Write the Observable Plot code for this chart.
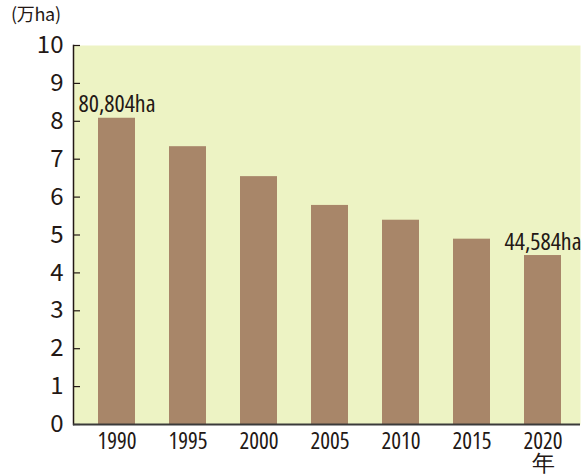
<!DOCTYPE html>
<html>
<head>
<meta charset="utf-8">
<script src="https://cdn.jsdelivr.net/npm/d3@7"></script>
<script src="https://cdn.jsdelivr.net/npm/@observablehq/plot@0.6"></script>
<style>
  html, body { margin: 0; padding: 0; background: #ffffff; }
  #wrap { position: relative; width: 587px; height: 475px; }
  #unit { position: absolute; left: 11px; top: 3px; line-height: 1.2; font-family: "Noto Sans CJK JP", sans-serif; font-size: 18px; letter-spacing: -0.3px; color: #231815; }
  svg { display: block; }
  g[aria-label="x-axis tick label"] text, g[aria-label="text"] text { font-stretch: 75%; font-weight: 400; }
</style>
</head>
<body>
<div id="wrap">
  <div id="unit"></div>
</div>
<script>
const years = [1990, 1995, 2000, 2005, 2010, 2015, 2020];
const areas = [8.0804, 7.33, 6.54, 5.78, 5.39, 4.89, 4.4584];
const barLabels = ["80,804ha", null, null, null, null, null, "44,584ha"];
const yTicks = [0, 1, 2, 3, 4, 5, 6, 7, 8, 9, 10];
const unitLabel = "(万ha)";
const yearSuffix = "年";

const data = years.map((y, i) => ({year: y, area: areas[i], label: barLabels[i]}));
const lastYear = years[years.length - 1];

const ink = "#231815";
const narrow = "'Open Sans', sans-serif";

document.getElementById("unit").textContent = unitLabel;

const chart = Plot.plot({
  width: 587,
  height: 475,
  marginLeft: 73,
  marginRight: 7,
  marginTop: 45,
  marginBottom: 51,
  style: {background: "transparent", color: ink},
  x: {type: "band", domain: years, paddingInner: 0.48, paddingOuter: 0.3, align: 0.56, label: null},
  y: {domain: [0, 10], label: null},
  marks: [
    Plot.frame({fill: "#edf3c4", stroke: null}),
    Plot.barY(data, {x: "year", y: "area", fill: "#a88669"}),
    Plot.tickY(yTicks, {y: d => d, stroke: ink, strokeWidth: 1.2, insetRight: 500}),
    Plot.frame({anchor: "left", stroke: ink, strokeWidth: 1.5}),
    Plot.ruleY([0], {stroke: "#3a3a3a", strokeWidth: 2}),
    Plot.axisY(yTicks, {tickSize: 0, tickPadding: 10, fontSize: 24, fontFamily: "'Noto Sans CJK JP', sans-serif", fill: ink, label: null}),
    Plot.axisX({tickSize: 0, tickPadding: 9, fontSize: 23, fontFamily: narrow, fill: ink, label: null, lineHeight: 0.95,
      tickFormat: d => d === lastYear ? `${d}\n${yearSuffix}` : String(d)}),
    Plot.text(data.filter(d => d.label), {x: "year", y: "area", text: "label", lineAnchor: "bottom", dy: -6, fontSize: 24, fontFamily: narrow, fill: ink})
  ]
});
document.getElementById("wrap").appendChild(chart);
</script>
</body>
</html>
